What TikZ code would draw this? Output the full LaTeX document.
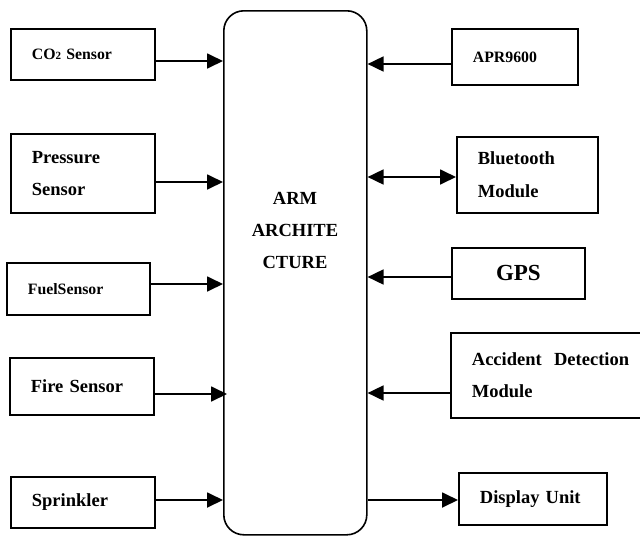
\documentclass[tikz,border=0pt]{standalone}
\usepackage{fontspec}
\setmainfont{Liberation Serif}
\usetikzlibrary{arrows.meta, positioning}

\begin{document}
\begin{tikzpicture}[x=1pt, y=-1pt,
		blk/.style={draw, line width=1.8pt, anchor=north west, inner xsep=21pt, inner ysep=0pt, align=left, font=\bfseries\fontsize{18.5}{32.5}\selectfont},
		sml/.style={font=\bfseries\fontsize{15.8}{32.5}\selectfont},
		arr/.style={line width=1.8pt, -{Triangle[length=16pt,width=15pt]}},
		dbl/.style={line width=1.8pt, {Triangle[length=16pt,width=15pt]}-{Triangle[length=16pt,width=15pt]}}]
	\useasboundingbox (0,0) rectangle (640,536);
	
	% controller in the middle
	\draw (223,10) node[draw, line width=1.6pt, rounded corners=20pt, anchor=north west, minimum width=143pt, minimum height=524pt] (arm) {}
	(295,230) node[align=center, font=\bfseries\fontsize{18.5}{32}\selectfont] (armtxt) {ARM\\ARCHITE\\CTURE};
	
	% left side
	\draw (10,28) node[blk, sml, text width=102pt, minimum height=51pt] (s1) {CO{\fontsize{11}{11}\selectfont 2} Sensor}
	(10,133) node[blk, text width=102pt, minimum height=79pt] (s2) {Pressure\\Sensor}
	(6,262) node[blk, sml, text width=101pt, minimum height=52pt] (s3) {FuelSensor}
	(9,357) node[blk, text width=102pt, minimum height=57pt] (s4) {Fire Sensor}
	(10,476) node[blk, text width=102pt, minimum height=51pt] (s5) {Sprinkler};
	
	% right side
	\draw (451,28) node[blk, sml, text width=84pt, minimum height=56pt] (m1) {APR9600}
	(456,136) node[blk, text width=99pt, minimum height=76pt] (m2) {Bluetooth\\Module}
	(451,247) node[blk, align=center, text width=91pt, minimum height=51pt, font=\bfseries\fontsize{23}{28}\selectfont] (m3) {GPS}
	(450,332) node[blk, text width=168pt, minimum height=85pt] (m4) {Accident~ Detection\\Module}
	(458,472) node[blk, text width=106pt, minimum height=52pt] (m5) {Display Unit};
	
	\draw[arr] (s1.east |- 0,61) -- (arm.west |- 0,61);
	\draw[arr] (s2.east |- 0,182) -- (arm.west |- 0,182);
	\draw[arr] (s3.east |- 0,284) -- (arm.west |- 0,284);
	\draw[arr, shorten >=-4pt] (s4.east |- 0,394) -- (arm.west |- 0,394);
	\draw[arr] (s5.east |- 0,500) -- (arm.west |- 0,500);
	
	\draw[arr] (m1.west |- 0,64) -- (arm.east |- 0,64);
	\draw[dbl] (m2.west |- 0,177) -- (arm.east |- 0,177);
	\draw[arr] (m3.west |- 0,277) -- (arm.east |- 0,277);
	\draw[arr] (m4.west |- 0,393) -- (arm.east |- 0,393);
	\draw[arr] (arm.east |- 0,500) -- (m5.west |- 0,500);
\end{tikzpicture}
\end{document}
